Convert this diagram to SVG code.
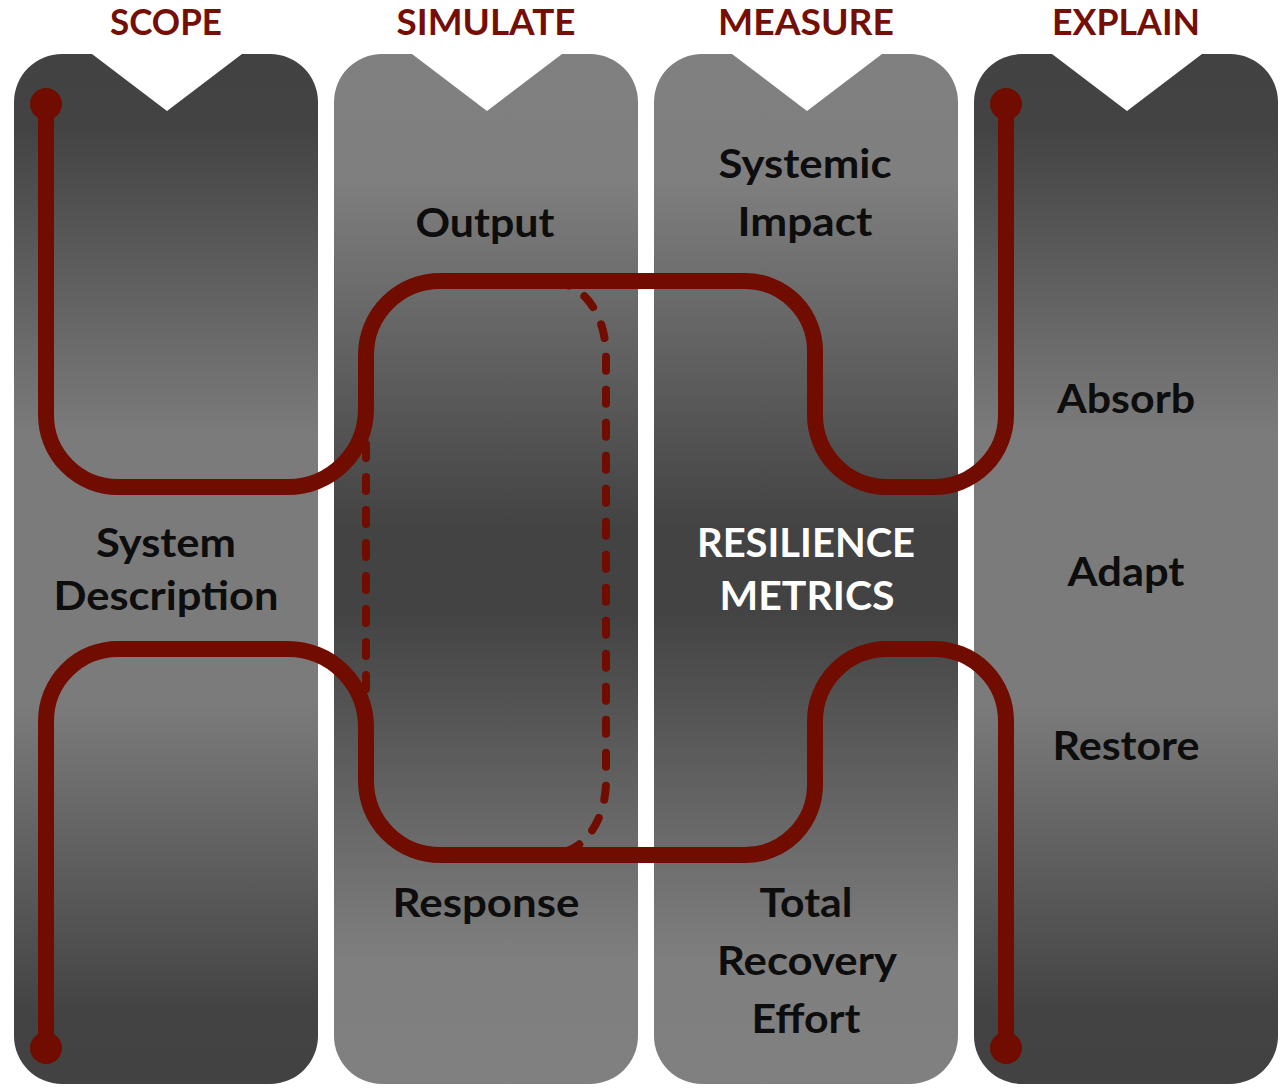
<svg xmlns="http://www.w3.org/2000/svg" width="1288" height="1088" viewBox="0 0 1288 1088">
  <style>
    .hdr { font-family: Lato, "Open Sans", "Liberation Sans", sans-serif; font-weight: 700; font-size: 36px; fill: #750F05; text-anchor: middle; }
    .lbl { font-family: Lato, "Open Sans", "Liberation Sans", sans-serif; font-weight: 700; font-size: 41px; fill: #0d0d0d; text-anchor: middle; }
    .white { fill: #ffffff; }
    .flow { fill: none; stroke: #700D00; stroke-width: 16; stroke-linecap: round; stroke-linejoin: round; }
    .dash { fill: none; stroke: #700D00; stroke-width: 8; stroke-linecap: round; stroke-dasharray: 14 19; }
    .dot { fill: #700D00; }
  </style>
  <defs>
    <linearGradient id="gDarkEnds" x1="0" y1="0" x2="0" y2="1">
      <stop offset="0" stop-color="#424242"/>
      <stop offset="0.07" stop-color="#434343"/>
      <stop offset="0.37" stop-color="#7b7b7b"/>
      <stop offset="0.63" stop-color="#7b7b7b"/>
      <stop offset="0.93" stop-color="#434343"/>
      <stop offset="1" stop-color="#424242"/>
    </linearGradient>
    <linearGradient id="gLightEnds" x1="0" y1="0" x2="0" y2="1">
      <stop offset="0" stop-color="#808080"/>
      <stop offset="0.12" stop-color="#7f7f7f"/>
      <stop offset="0.46" stop-color="#434343"/>
      <stop offset="0.54" stop-color="#434343"/>
      <stop offset="0.88" stop-color="#7f7f7f"/>
      <stop offset="1" stop-color="#808080"/>
    </linearGradient>
    <path id="col" d="M48,54 H78 L153,111 L228,54 H256 A48,48 0 0 1 304,102 V1036 A48,48 0 0 1 256,1084 H48 A48,48 0 0 1 0,1036 V102 A48,48 0 0 1 48,54 Z"/>
  </defs>

  <g id="scope">
    <use href="#col" x="14" fill="url(#gDarkEnds)"/>
    <text class="hdr" x="166" y="35" textLength="112" lengthAdjust="spacingAndGlyphs">SCOPE</text>
    <text class="lbl" x="166" y="557" textLength="140" lengthAdjust="spacingAndGlyphs">System</text>
    <text class="lbl" x="166" y="610" textLength="225" lengthAdjust="spacingAndGlyphs">Description</text>
  </g>

  <g id="simulate">
    <use href="#col" x="334" fill="url(#gLightEnds)"/>
    <text class="hdr" x="486" y="35" textLength="179" lengthAdjust="spacingAndGlyphs">SIMULATE</text>
    <text class="lbl" x="485" y="237" textLength="139" lengthAdjust="spacingAndGlyphs">Output</text>
    <text class="lbl" x="486" y="917" textLength="187" lengthAdjust="spacingAndGlyphs">Response</text>
  </g>

  <g id="measure">
    <use href="#col" x="654" fill="url(#gLightEnds)"/>
    <text class="hdr" x="806" y="35" textLength="176" lengthAdjust="spacingAndGlyphs">MEASURE</text>
    <text class="lbl" x="805" y="178" textLength="173" lengthAdjust="spacingAndGlyphs">Systemic</text>
    <text class="lbl" x="805" y="236" textLength="135" lengthAdjust="spacingAndGlyphs">Impact</text>
    <text class="lbl white" x="806" y="557" textLength="218" lengthAdjust="spacingAndGlyphs">RESILIENCE</text>
    <text class="lbl white" x="807" y="610" textLength="175" lengthAdjust="spacingAndGlyphs">METRICS</text>
    <text class="lbl" x="806" y="917" textLength="93" lengthAdjust="spacingAndGlyphs">Total</text>
    <text class="lbl" x="807" y="975" textLength="180" lengthAdjust="spacingAndGlyphs">Recovery</text>
    <text class="lbl" x="806" y="1033" textLength="109" lengthAdjust="spacingAndGlyphs">Effort</text>
  </g>

  <g id="explain">
    <use href="#col" x="974" fill="url(#gDarkEnds)"/>
    <text class="hdr" x="1126" y="35" textLength="148" lengthAdjust="spacingAndGlyphs">EXPLAIN</text>
    <text class="lbl" x="1126" y="413" textLength="138" lengthAdjust="spacingAndGlyphs">Absorb</text>
    <text class="lbl" x="1126" y="586" textLength="117" lengthAdjust="spacingAndGlyphs">Adapt</text>
    <text class="lbl" x="1126" y="760" textLength="147" lengthAdjust="spacingAndGlyphs">Restore</text>
  </g>

  <g id="connectors">
    <path class="dash" d="M366,411 V725"/>
    <path class="dash" d="M555,283 A51,72 0 0 1 606,355 V781 A51,72 0 0 1 555,853"/>
    <path class="flow" d="M46,104 V415 A72,72 0 0 0 118,487 H288 A78,78 0 0 0 366,409 V355 A74,74 0 0 1 440,281 H745 A70,70 0 0 1 815,351 V415 A72,72 0 0 0 887,487 H934 A72,72 0 0 0 1006,415 V104"/>
    <path class="flow" d="M46,1048 V721 A72,72 0 0 1 118,649 H288 A78,78 0 0 1 366,727 V781 A74,74 0 0 0 440,855 H745 A70,70 0 0 0 815,785 V721 A72,72 0 0 1 887,649 H934 A72,72 0 0 1 1006,721 V1048"/>
    <circle class="dot" cx="46" cy="104" r="16"/>
    <circle class="dot" cx="46" cy="1048" r="16"/>
    <circle class="dot" cx="1006" cy="104" r="16"/>
    <circle class="dot" cx="1006" cy="1048" r="16"/>
  </g>
</svg>
